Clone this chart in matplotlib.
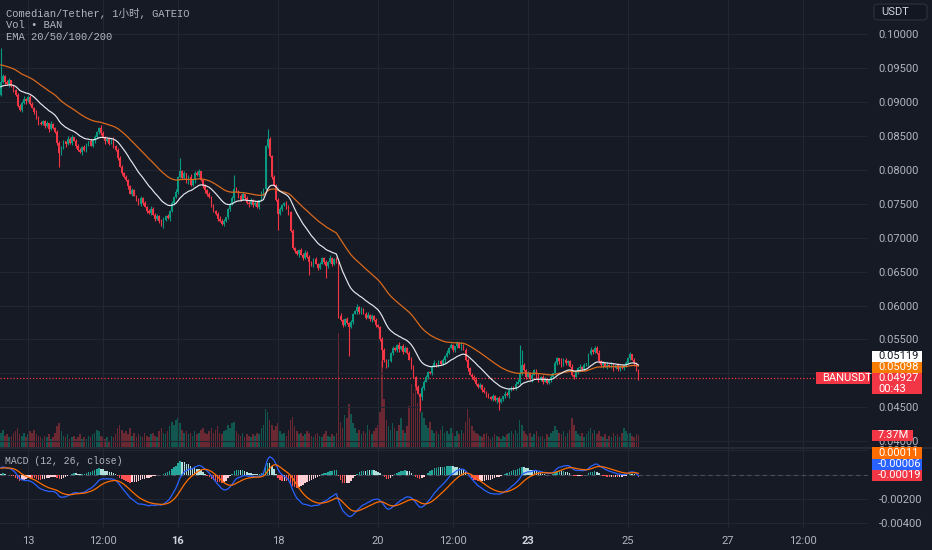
import numpy as np
import matplotlib
matplotlib.use("Agg")
import matplotlib.pyplot as plt
from matplotlib.patches import Rectangle, FancyBboxPatch
from matplotlib.lines import Line2D
from matplotlib.ticker import FuncFormatter

# ---- values: BAN/USDT 1h candles, Gate.io ----
# closes in 1e-5 USDT, first candle = 12th 11:00, last candle = 25th 05:00
closes_e5 = [
    9300, 9380, 9300, 9270, 9320, 9240, 9180, 9100, 8950, 8880,
    8990, 9050, 9010, 9080, 8980, 8920, 8850, 8760, 8700, 8680,
    8720, 8650, 8690, 8600, 8680, 8620, 8560, 8400, 8250, 8330,
    8420, 8380, 8460, 8400, 8480, 8430, 8360, 8300, 8260, 8340,
    8290, 8380, 8420, 8360, 8440, 8480, 8560, 8620, 8540, 8480,
    8420, 8460, 8390, 8450, 8360, 8300, 8180, 8050, 7960, 7900,
    7850, 7760, 7650, 7700, 7620, 7560, 7500, 7580, 7520, 7460,
    7400, 7360, 7430, 7340, 7280, 7320, 7250, 7180, 7260, 7320,
    7290, 7400, 7520, 7600, 7680, 7900, 7980, 7880, 7950, 7820,
    7900, 7780, 7850, 7960, 7920, 7980, 7850, 7760, 7700, 7640,
    7600, 7480, 7400, 7350, 7280, 7250, 7200, 7240, 7300, 7420,
    7500, 7580, 7720, 7680, 7620, 7560, 7640, 7580, 7520, 7500,
    7560, 7480, 7520, 7460, 7550, 7650, 7720, 8350, 8450, 8200,
    7900, 7780, 7550, 7350, 7420, 7480, 7520, 7450, 7380, 7100,
    6850, 6800, 6760, 6820, 6750, 6700, 6780, 6720, 6650, 6600,
    6680, 6620, 6560, 6620, 6700, 6640, 6580, 6650, 6700, 6620,
    6680, 6640, 5850, 5780, 5720, 5800, 5740, 5680, 5760, 5880,
    5920, 5980, 5900, 5950, 5880, 5820, 5860, 5800, 5840, 5780,
    5720, 5680, 5500, 5350, 5200, 5120, 5180, 5300, 5380, 5340,
    5420, 5360, 5400, 5320, 5380, 5300, 5200, 5100, 4950, 4800,
    4700, 4650, 4780, 4880, 4950, 5020, 5000, 5100, 5150, 5120,
    5180, 5140, 5200, 5250, 5300, 5380, 5420, 5350, 5400, 5450,
    5380, 5420, 5350, 5200, 5080, 4980, 4950, 4900, 4850, 4800,
    4830, 4760, 4720, 4680, 4650, 4620, 4660, 4600, 4640, 4580,
    4620, 4660, 4700, 4680, 4750, 4800, 4780, 4850, 4880, 5000,
    5120, 5050, 4950, 5000, 4920, 4980, 5050, 4960, 4900, 4950,
    4880, 4920, 4860, 4900, 4950, 5000, 5150, 5220, 5180, 5120,
    5200, 5150, 5180, 5100, 4980, 4950, 5020, 5080, 5100, 5060,
    5120, 5150, 5280, 5350, 5320, 5380, 5300, 5180, 5120, 5150,
    5100, 5130, 5100, 5140, 5080, 5120, 5060, 5100, 5080, 5120,
    5150, 5220, 5280, 5200, 5150, 5050, 4927,
]
first_open_e5 = 9110

# wick lengths in 1e-4 USDT, one digit per candle
wick_up_digits = """
0322312143 2413221342 1231421323 2142312231 3214232143 2132413221
3124213422 1342231242 3122413231 2413231242 3121342312 2413223142
3123142213 2313421242 3121324231 2413123142 2314213231 2413124132
3124213231 2413213421 3142312341 2132413213 2413213241 3142314213
2142312431 2314231241 2312413214 2312413241 3124132413 2413214231
3241321
"""
wick_dn_digits = """
2131423121 3241213132 1324121313 2412313214 1231241321 3121324132
2413121341 3121423132 1423132121 3214131242 1321421313 2141321324
1312413231 4213121342 1324131212 3142131324 2131421313 1423121341
3121342131 2413121324 1342131212 3124121342 1312413121 2413213142
1321413213 2131241321 4121321342 1321241312 2141321324 1312413213
2131422
"""
# the long wicks
wick_up_big = {0: 50, 86: 20, 112: 20, 128: 16, 249: 42, 250: 23}
wick_dn_big = {28: 20, 133: 24, 148: 20, 156: 18, 167: 43, 183: 25,
               201: 20, 239: 12}

# volume in millions
volume_m = [
    9, 11, 7, 8, 6, 7, 9, 10, 12, 8,
    7, 9, 6, 8, 10, 9, 11, 8, 7, 6,
    5, 7, 6, 8, 5, 6, 9, 13, 15, 10,
    7, 6, 8, 5, 6, 7, 5, 6, 8, 5,
    6, 5, 7, 6, 8, 9, 11, 10, 7, 6,
    5, 6, 4, 7, 6, 8, 12, 14, 11, 9,
    10, 8, 12, 7, 9, 6, 8, 7, 6, 9,
    7, 6, 8, 9, 7, 6, 10, 12, 9, 8,
    10, 13, 16, 14, 17, 18, 15, 11, 9, 10,
    8, 9, 7, 10, 8, 9, 11, 12, 9, 8,
    10, 12, 9, 11, 13, 9, 8, 10, 11, 14,
    12, 15, 16, 10, 8, 7, 9, 6, 8, 7,
    6, 8, 7, 9, 8, 12, 14, 24, 22, 17,
    14, 11, 13, 15, 10, 8, 9, 7, 11, 17,
    19, 13, 10, 8, 9, 7, 8, 10, 9, 7,
    6, 8, 9, 7, 6, 8, 10, 7, 6, 8,
    7, 9, 72, 16, 12, 20, 18, 27, 21, 15,
    12, 9, 11, 8, 10, 9, 14, 11, 8, 10,
    12, 14, 22, 54, 30, 17, 13, 11, 15, 12,
    10, 14, 18, 11, 9, 13, 26, 40, 34, 38,
    28, 32, 22, 18, 14, 12, 16, 11, 9, 10,
    8, 11, 13, 9, 10, 8, 12, 9, 7, 10,
    8, 11, 9, 16, 24, 18, 13, 10, 9, 8,
    7, 6, 8, 9, 7, 5, 6, 8, 7, 6,
    5, 7, 6, 8, 9, 10, 8, 11, 9, 17,
    14, 10, 8, 7, 9, 6, 8, 10, 7, 6,
    7, 5, 8, 6, 9, 10, 13, 11, 9, 8,
    10, 7, 9, 11, 18, 14, 10, 8, 7, 9,
    6, 8, 10, 12, 9, 11, 8, 10, 7, 6,
    8, 5, 7, 6, 9, 7, 8, 6, 9, 12,
    10, 8, 9, 7, 6, 8, 7.37,
]

# indicator values where the lines enter the picture
ema20_start = 0.0922
ema50_start = 0.0956
ema12_start = 0.0927
ema26_start = 0.0921
signal_start = 0.0005

# last values printed in the price scale
ema20_last_txt = "0.05119"
ema50_last_txt = "0.05098"
macd_tags = ["0.00011", "-0.00006", "-0.00019"]   # signal, macd, histogram
countdown = "00:43"

tick_hours = [0, 36, 72, 120, 168, 204, 240, 288, 336, 372]   # hours from 13th 00:00
tick_labels = ["13", "12:00", "16", "18", "20", "12:00", "23", "25", "27", "12:00"]
bold_labels = [2, 6]

# ---- colours ----
BG = "#161a25"
GRID = "#222633"
TXT = "#b2b5be"
UP = "#089981"
DN = "#f23645"
VOL_UP = "#11574f"
VOL_DN = "#6a2832"

plt.rcParams["font.family"] = ["Roboto", "DejaVu Sans"]

c = np.array(closes_e5) * 1e-5
n = len(c)
o = np.empty(n)
o[0] = first_open_e5 * 1e-5
o[1:] = c[:-1]
wu = np.array([int(ch) for ch in "".join(wick_up_digits.split())], float)
wd = np.array([int(ch) for ch in "".join(wick_dn_digits.split())], float)
for k, v in wick_up_big.items():
    wu[k] = v
for k, v in wick_dn_big.items():
    wd[k] = v
hi = np.maximum(o, c) + wu * 1e-4
lo = np.minimum(o, c) - wd * 1e-4
vol = np.array(volume_m, float)
hours = np.arange(n) - 13


def ema(vals, span, start):
    k = 2.0 / (span + 1)
    out = []
    e = start
    for v in vals:
        e = e + k * (v - e)
        out.append(e)
    return np.array(out)


ema20 = ema(c, 20, ema20_start)
ema50 = ema(c, 50, ema50_start)
macd = ema(c, 12, ema12_start) - ema(c, 26, ema26_start)
signal = ema(macd, 9, signal_start)
hist = macd - signal

# ---- layout in pixels ----
W, H = 932, 550
PANE_R = 868
P_TOP, P_BOT = 0, 447
M_TOP, M_BOT = 448, 528
PMAX, PMIN = 0.10507, 0.03914
ppx = (PMAX - PMIN) / (P_BOT - P_TOP)
VOL_PER_PX = 0.63
MZERO_PX = 474.5
M_PER_PX = 0.001 / 12.1
XMIN = -13.44
XMAX = (PANE_R - 28) / (50 / 24.0)


def rect(x0, y0, x1, y1):
    return [x0 / W, 1 - y1 / H, (x1 - x0) / W, (y1 - y0) / H]


fig = plt.figure(figsize=(W / 100, H / 100), dpi=100, facecolor=BG)
ax = fig.add_axes(rect(0, P_TOP, PANE_R, P_BOT))
ax_vol = ax.twinx()
axm = fig.add_axes(rect(0, M_TOP, PANE_R, M_BOT), sharex=ax)

ax_vol.set_facecolor(BG)
ax.set_zorder(ax_vol.get_zorder() + 1)
ax.patch.set_visible(False)
axm.set_facecolor(BG)

for a in (ax, ax_vol, axm):
    for s in a.spines.values():
        s.set_visible(False)

# volume
vcol = np.where(c >= o, VOL_UP, VOL_DN)
ax_vol.bar(hours, vol, width=0.78, color=vcol, linewidth=0)
ax_vol.set_ylim(0, (P_BOT - P_TOP) * VOL_PER_PX)
ax_vol.set_yticks([])

# candles
ccol = np.where(c >= o, UP, DN)
ax.vlines(hours, lo, hi, colors=ccol, linewidth=0.8, zorder=3)
ax.bar(hours, np.maximum(np.abs(c - o), ppx * 0.8), bottom=np.minimum(o, c),
       width=0.8, color=ccol, linewidth=0, zorder=4)
ax.plot(hours, ema50, color="#d9691c", lw=0.9, zorder=5)
ax.plot(hours, ema20, color="#e6e8ee", lw=0.85, zorder=6)
ax.axhline(c[-1], color=DN, lw=0.9, ls=(0, (1, 1.6)), zorder=2)

ax.set_ylim(PMIN, PMAX)
ax.set_xlim(XMIN, XMAX)
ax.set_yticks(np.arange(0.040, 0.1001, 0.005))
ax.yaxis.tick_right()
ax.yaxis.set_major_formatter(FuncFormatter(lambda v, p: f"{v:.5f}"))
ax.tick_params(axis="y", length=0, pad=7.5, labelsize=8, labelcolor=TXT)
ax.tick_params(axis="x", length=0, labelbottom=False)
ax.set_xticks(tick_hours)
ax.grid(True, color=GRID, lw=0.8, zorder=0)

# MACD
hcol = []
for i, hv in enumerate(hist):
    prev = hist[i - 1] if i > 0 else hv
    if hv >= 0:
        hcol.append("#26a69a" if hv > prev else "#b2dfdb")
    else:
        hcol.append("#ff5252" if hv < prev else "#ffcdd2")
axm.bar(hours, hist, width=0.72, color=hcol, linewidth=0, zorder=3)
axm.plot(hours, macd, color="#2962ff", lw=0.9, zorder=4)
axm.plot(hours, signal, color="#ff6d00", lw=0.9, zorder=5)
axm.axhline(0, color="#4a4e5a", lw=0.8, ls=(0, (4, 3)), zorder=2)
axm.set_ylim((MZERO_PX - M_BOT) * M_PER_PX, (MZERO_PX - M_TOP) * M_PER_PX)
axm.set_yticks([-0.004, -0.002, 0.0, 0.002])
axm.yaxis.tick_right()
axm.yaxis.set_major_formatter(FuncFormatter(lambda v, p: f"{v:.5f}".replace("−", "-")))
axm.tick_params(axis="y", length=0, pad=7.5, labelsize=8, labelcolor=TXT)
axm.set_xticks(tick_hours)
axm.set_xticklabels(tick_labels)
axm.tick_params(axis="x", length=0, pad=6, labelsize=8, labelcolor=TXT)
for i, t in enumerate(axm.get_xticklabels()):
    if i in bold_labels:
        t.set_fontweight("bold")
        t.set_color("#d1d4dc")
axm.grid(True, color=GRID, lw=0.8, zorder=0)
axm.set_xlim(XMIN, XMAX)

# pane separator
fig.add_artist(Line2D([0, 1], [1 - 447.6 / H] * 2, color="#2a2e39", lw=1.2))


# ---- price scale tags ----
def tag(x0, x1, y0, y1, text, fc, tc, size=8, lines=None):
    fig.add_artist(Rectangle((x0 / W, 1 - y1 / H), (x1 - x0) / W, (y1 - y0) / H,
                             transform=fig.transFigure, facecolor=fc,
                             edgecolor="none", zorder=20))
    if lines is None:
        lines = [(text, (y0 + y1) / 2)]
    for t, yc in lines:
        fig.text((x0 + 6) / W, 1 - yc / H, t, color=tc, fontsize=size,
                 ha="left", va="center", zorder=21)


def price_px(p):
    return P_TOP + (PMAX - p) / ppx


y_last = price_px(c[-1])
tag(872, 922, y_last - 5.5, y_last + 16, None, DN, "white",
    lines=[(f"{c[-1]:.5f}", y_last), (countdown, y_last + 10.5)])
tag(816, 870, y_last - 6, y_last + 6, "BANUSDT", DN, "white", size=8)
tag(872, 922, y_last - 16.5, y_last - 5.5, ema50_last_txt, "#f57c00", "white")
tag(872, 922, y_last - 27.5, y_last - 16.5, ema20_last_txt, "#ffffff", "#131722")

y_vol = P_BOT - vol[-1] / VOL_PER_PX
tag(872, 913, y_vol - 5.5, y_vol + 5.5, f"{vol[-1]:.2f}M", DN, "white")

tag(872, 922, 447, 458.5, macd_tags[0], "#ff6d00", "white")
tag(872, 922, 458.5, 470, macd_tags[1], "#2962ff", "white")
tag(872, 922, 470, 481, macd_tags[2], DN, "white")

# currency box
fig.add_artist(FancyBboxPatch((874 / W, 1 - 20 / H), 53 / W, 16 / H,
                              boxstyle="round,pad=0,rounding_size=0.005",
                              transform=fig.transFigure, facecolor="#131722",
                              edgecolor="#2e3240", lw=0.8, zorder=20))
fig.text(881 / W, 1 - 12 / H, "USDT", color="#d1d4dc", fontsize=8,
         ha="left", va="center", zorder=21)

# legend texts
mono = ["Liberation Mono", "Noto Sans CJK SC", "DejaVu Sans Mono"]
for t, yc in [("Comedian/Tether, 1小时, GATEIO", 13.3),
              ("Vol • BAN", 25), ("EMA 20/50/100/200", 36.7)]:
    fig.text(6.5 / W, 1 - yc / H, t, color=TXT, fontsize=7.6, family=mono,
             ha="left", va="center")
fig.text(5 / W, 1 - 460.5 / H, "MACD (12, 26, close)", color=TXT, fontsize=7,
         family=mono, ha="left", va="center")

fig.savefig("out.png", dpi=100, facecolor=BG)
